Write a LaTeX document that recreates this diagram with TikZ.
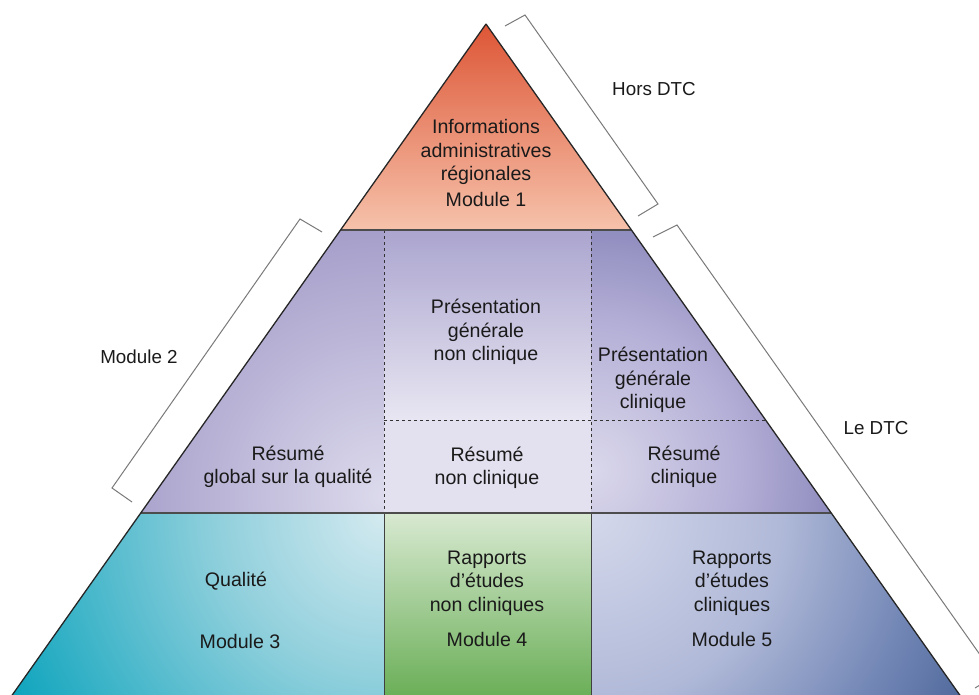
\documentclass[tikz,border=0pt]{standalone}
\usepackage{fontspec}
\setmainfont{Liberation Sans}
\definecolor{topA}{HTML}{DD5636}
\definecolor{topM}{HTML}{EA8566}
\definecolor{topB}{HTML}{F6C2AB}
\definecolor{mcTop}{HTML}{ABA5CF}
\definecolor{mcBot}{HTML}{E8E6F2}
\definecolor{mcLow}{HTML}{E3E1EF}
\definecolor{mlIn}{HTML}{DCDAEC}
\definecolor{mlOut}{HTML}{9F97C6}
\definecolor{mrIn}{HTML}{DAD8EB}
\definecolor{mrMid}{HTML}{B3AED6}
\definecolor{mrOut}{HTML}{8583B8}
\definecolor{blIn}{HTML}{D4EAF0}
\definecolor{blMid}{HTML}{8CCEDB}
\definecolor{blOut}{HTML}{00A0BA}
\definecolor{bcTop}{HTML}{D8E9D1}
\definecolor{bcBot}{HTML}{6BAF58}
\definecolor{brIn}{HTML}{D4D8EB}
\definecolor{brMid}{HTML}{B0B9D8}
\definecolor{brMid2}{HTML}{7387B6}
\definecolor{brOut}{HTML}{4A6597}
\definecolor{txt}{HTML}{1A1A1A}
\definecolor{brk}{HTML}{7A7A7A}
\pgfdeclareradialshading{mlshade}{\pgfpointorigin}{color(0bp)=(mlIn); color(25bp)=(mlOut); color(50bp)=(mlOut)}
\pgfdeclareradialshading{mrshade}{\pgfpointorigin}{color(0bp)=(mrIn); color(14bp)=(mrMid); color(25bp)=(mrOut); color(50bp)=(mrOut)}
\pgfdeclareradialshading{blshade}{\pgfpointorigin}{color(0bp)=(blIn); color(10bp)=(blMid); color(25bp)=(blOut); color(50bp)=(blOut)}
\pgfdeclareradialshading{brshade}{\pgfpointorigin}{color(0bp)=(brIn); color(11bp)=(brMid); color(19bp)=(brMid2); color(25bp)=(brOut); color(50bp)=(brOut)}
\begin{document}
\begin{tikzpicture}[x=1pt,y=-1pt,
  lbl/.style={font=\fontsize{19.6}{23.4}\selectfont, text=txt, align=center, inner sep=0pt},
  olbl/.style={font=\fontsize{18.8}{23}\selectfont, text=txt, align=center, inner sep=0pt},
  edgeline/.style={draw=black!85, line width=1.3pt},
  bandline/.style={draw=black!70, line width=1.8pt},
  dashline/.style={draw=black!80, line width=1pt, dash pattern=on 3pt off 3pt},
  vline/.style={draw=black!75, line width=1pt},
  brkline/.style={draw=brk, line width=1pt, line join=miter}]
\useasboundingbox (0,0) rectangle (979,695);
\clip (0,0) rectangle (979,695);
\fill[white] (0,0) rectangle (979,695);
% key points
\coordinate (A) at (486,24);
\coordinate (TL) at (340.6,230);
\coordinate (TR) at (631.4,230);
\coordinate (ML) at (140.8,513);
\coordinate (MR) at (831.2,513);
\coordinate (BL) at (5.2,705);
\coordinate (BR) at (966.8,705);
\coordinate (D1t) at (384,230);
\coordinate (D2t) at (591,230);
\coordinate (D1m) at (384,513);
\coordinate (D2m) at (591,513);
\coordinate (D1b) at (384,705);
\coordinate (D2b) at (591,705);
\coordinate (H1) at (384,420);
\coordinate (H2) at (765.6,420);
% top triangle
\shade[top color=topA, middle color=topM, bottom color=topB] (A) -- (TR) -- (TL) -- cycle;
% middle left
\begin{scope}
\clip (TL) -- (D1t) -- (D1m) -- (ML) -- cycle;
\fill[mlOut] (100,220) rectangle (400,520);
\shade[shading=mlshade] (384,495) circle (300pt);
\end{scope}
% middle centre
\shade[top color=mcTop, bottom color=mcBot] (D1t) rectangle (591,420);
\fill[mcLow] (H1) rectangle (D2m);
% middle right
\begin{scope}
\clip (D2t) -- (TR) -- (MR) -- (D2m) -- cycle;
\fill[mrOut] (580,220) rectangle (840,520);
\shade[shading=mrshade] (591,470) circle (270pt);
\end{scope}
% bottom left
\begin{scope}
\clip (ML) -- (D1m) -- (D1b) -- (BL) -- cycle;
\fill[blOut] (0,505) rectangle (400,710);
\shade[shading=blshade] (384,513) circle (440pt);
\end{scope}
% bottom centre
\shade[top color=bcTop, bottom color=bcBot] (D1m) rectangle (591,695);
\fill[bcBot] (384,695) rectangle (D2b);
% bottom right
\begin{scope}
\clip (D2m) -- (MR) -- (BR) -- (D2b) -- cycle;
\fill[brOut] (580,505) rectangle (979,710);
\shade[shading=brshade] (591,513) circle (430pt);
\end{scope}
% lines
\draw[dashline] (D1t) -- (D1m);
\draw[dashline] (D2t) -- (D2m);
\draw[dashline] (H1) -- (H2);
\draw[vline] (D1m) -- (D1b);
\draw[vline] (D2m) -- (D2b);
\draw[bandline] (TL) -- (TR);
\draw[bandline] (ML) -- (MR);
\draw[edgeline] (A) -- (BL);
\draw[edgeline] (A) -- (BR);
% brackets
\coordinate (b1a) at (505,26);
\coordinate (b1b) at (525,15);
\coordinate (b1c) at (658,204);
\coordinate (b1d) at (638,216);
\coordinate (b2a) at (322,232);
\coordinate (b2b) at (300,219);
\coordinate (b2c) at (112,488);
\coordinate (b2d) at (132,502);
\coordinate (b3a) at (653,237);
\coordinate (b3b) at (677,225);
\coordinate (b3c) at (995,676);
\coordinate (b3d) at (975,688);
\draw[brkline] (b1a) -- (b1b) -- (b1c) -- (b1d);
\draw[brkline] (b2a) -- (b2b) -- (b2c) -- (b2d);
\draw[brkline] (b3a) -- (b3b) -- (b3c) -- (b3d);
% labels
\node[olbl] (hors) at (654,89) {Hors DTC};
\node[olbl] (ledtc) at (876,428) {Le DTC};
\node[olbl] (mod2) at (139,357) {Module 2};
\node[lbl] (m1) at (486,163) {Informations\\administratives\\régionales\\[2.5pt]Module 1};
\node[lbl] (pgnc) at (486,332) {Présentation\\générale\\non clinique};
\node[lbl] (rnc) at (487,468) {Résumé\\non clinique};
\node[lbl] (pgc) at (653,380) {Présentation\\générale\\clinique};
\node[lbl] (rc) at (684,467) {Résumé\\clinique};
\node[lbl] (rgq) at (288,467) {Résumé\\global sur la qualité};
\node[lbl] (qual) at (236,581) {Qualité};
\node[lbl] (mod3) at (240,641) {Module 3};
\node[lbl] (renc) at (487,599) {Rapports\\d’études\\non cliniques\\[12pt]Module 4};
\node[lbl] (rec) at (732,599) {Rapports\\d’études\\cliniques\\[12pt]Module 5};
\end{tikzpicture}
\end{document}
